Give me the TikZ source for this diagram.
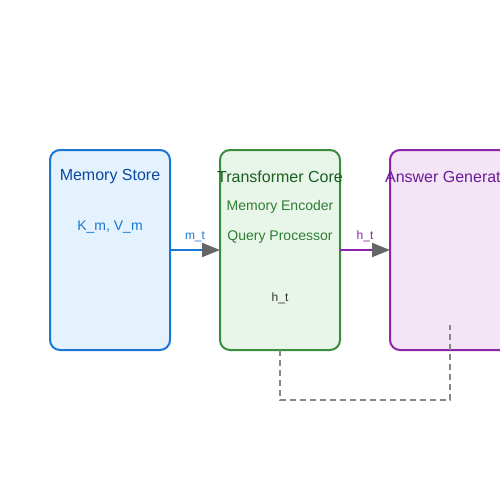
\documentclass[tikz,border=0pt]{standalone}
\usepackage{fontspec}
\setmainfont{Liberation Sans}
\usetikzlibrary{arrows.meta}
\definecolor{storeline}{HTML}{1976D2}
\definecolor{storefill}{HTML}{E3F2FD}
\definecolor{storetext}{HTML}{0D47A1}
\definecolor{coreline}{HTML}{388E3C}
\definecolor{corefill}{HTML}{E8F5E9}
\definecolor{coretext}{HTML}{1B5E20}
\definecolor{coresub}{HTML}{2E7D32}
\definecolor{genline}{HTML}{8E24AA}
\definecolor{genfill}{HTML}{F3E5F5}
\definecolor{gentext}{HTML}{6A1B9A}
\definecolor{tipgray}{HTML}{666666}
\definecolor{loopgray}{HTML}{888888}
\tikzset{
  block/.style={draw, line width=2pt, rounded corners=10pt, minimum width=120pt, minimum height=200pt, inner sep=0pt, outer sep=0pt},
  title/.style={font=\fontsize{16}{19}\selectfont, inner sep=0pt},
  sub/.style={font=\fontsize{14}{17}\selectfont, inner sep=0pt},
  tag/.style={font=\fontsize{12}{14}\selectfont, inner sep=0pt},
  flow/.style={line width=2pt, -{Triangle[length=18pt, width=14pt, color=tipgray, fill=tipgray]}},
}
\begin{document}
\begin{tikzpicture}[x=1pt, y=-1pt]
  \useasboundingbox[fill=white] (0,0) rectangle (500,500);
  % the three blocks
  \node[block, storeline, fill=storefill] (store) at (110,250) {};
  \node[block, coreline, fill=corefill] (core) at (280,250) {};
  \node[block, genline, fill=genfill] (gen) at (450,250) {};
  % texts in the blocks
  \node[title, storetext] (storetitle) at (110,177) {Memory Store};
  \node[sub, storeline] (storekv) at (110,227) {K\_m, V\_m};
  \node[title, coretext] (coretitle) at (280,177) {Transformer Core};
  \node[sub, coresub] (coreenc) at (280,207) {Memory Encoder};
  \node[sub, coresub] (coreqry) at (280,237) {Query Processor};
  \node[tag, black!80] (coreh) at (280,298) {h\_t};
  \node[title, gentext] (gentitle) at (450,177) {Answer Generator};
  % connectors
  \draw[flow, storeline] (store.east) -- node[tag, storeline, above=7pt] (mlabel) {m\_t} (core.west);
  \draw[flow, genline] (core.east) -- node[tag, genline, above=7pt] (hlabel) {h\_t} (gen.west);
  \coordinate (loopend) at (450,325);
  \draw[loopgray, line width=2pt, dash pattern=on 6pt off 4pt] (core.south) |- (450,400) -- (loopend);
\end{tikzpicture}
\end{document}
